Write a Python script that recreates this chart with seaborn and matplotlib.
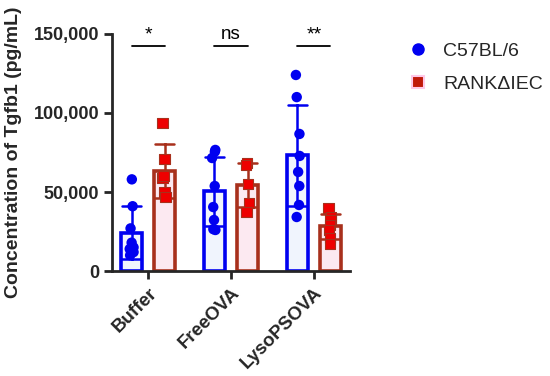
import numpy as np
import pandas as pd
import matplotlib
matplotlib.use("Agg")
import matplotlib.pyplot as plt
import matplotlib.colors as mcolors
import seaborn as sns
from matplotlib.lines import Line2D
from matplotlib.markers import MarkerStyle

# ---- data (pg/mL) ----
groups = ["Buffer", "FreeOVA", "LysoPSOVA"]
strains = ["C57BL/6", "RANKΔIEC"]

buffer_wt = [58000, 41000, 27000, 18000, 15000, 12000, 14000, 10000]
buffer_ko = [93700, 70900, 58900, 50000, 47000, 60000]
freeova_wt = [76600, 75500, 71500, 53800, 40500, 32300, 26500, 26000]
freeova_ko = [68500, 67000, 55000, 43000, 37500]
lyso_wt = [124000, 110000, 86700, 72800, 62700, 53800, 41800, 34200]
lyso_ko = [40000, 34000, 32000, 29000, 26000, 21000, 17000]

sig_labels = ["*", "ns", "**"]
yticks = [0, 50000, 100000, 150000]

# ---- long table ----
rows = []
for g, wt, ko in zip(groups, [buffer_wt, freeova_wt, lyso_wt], [buffer_ko, freeova_ko, lyso_ko]):
    rows += [(g, strains[0], v) for v in wt]
    rows += [(g, strains[1], v) for v in ko]
df = pd.DataFrame(rows, columns=["group", "strain", "conc"])

# ---- styles ----
edge = {strains[0]: "#0000f0", strains[1]: "#a8301c"}
face = {strains[0]: "#eef3ff", strains[1]: "#ffe6f0"}
dot = {strains[0]: "#0000f0", strains[1]: "#ee0000"}

sns.set_style("ticks")
plt.rcParams["font.family"] = ["Liberation Sans", "DejaVu Sans"]

fig, ax = plt.subplots(figsize=(5.5, 3.76), dpi=100)
fig.subplots_adjust(left=0.204, right=0.636, bottom=0.279, top=0.91)

sns.barplot(data=df, x="group", y="conc", hue="strain", order=groups, hue_order=strains,
            palette=face, linewidth=2.6, gap=0.38, errorbar="sd", capsize=0.45,
            err_kws={"linewidth": 1.8}, legend=False, ax=ax)


def side(cx):
    # left of the category tick = C57BL/6, right = RANKΔIEC
    return strains[0] if cx < np.round(cx) else strains[1]


for p in ax.patches:
    p.set_edgecolor(edge[side(p.get_x() + p.get_width() / 2)])
for ln in ax.lines:
    xs = np.asarray(ln.get_xdata(), dtype=float)
    xs = xs[np.isfinite(xs)]
    if xs.size == 0:
        continue
    ln.set_color(edge[side(xs.mean())])

n_before = len(ax.collections)
np.random.seed(3)
sns.stripplot(data=df, x="group", y="conc", hue="strain", order=groups, hue_order=strains,
              palette=dot, dodge=True, jitter=0.06, size=7.5, linewidth=0,
              legend=False, ax=ax, zorder=4)
square = MarkerStyle("s")
square_path = square.get_path().transformed(square.get_transform())
red_rgba = mcolors.to_rgba(dot[strains[1]])
for coll in ax.collections[n_before:]:
    fc = coll.get_facecolor()
    if len(fc) and np.allclose(fc[0][:3], red_rgba[:3], atol=0.02):
        coll.set_paths([square_path])
        coll.set_edgecolor(edge[strains[1]])
        coll.set_linewidth(0.8)

# significance lines
for i, lab in enumerate(sig_labels):
    ax.plot([i - 0.2, i + 0.2], [142000, 142000], color="black", lw=1.3, clip_on=False)
    ax.text(i, 144000, lab, ha="center", va="bottom", fontsize=14 if lab != "ns" else 13.5,
            color="black")

ax.set_ylim(0, 150000)
ax.set_xlim(-0.434, 2.434)
ax.set_yticks(yticks)
ax.set_yticklabels([f"{t:,}" for t in yticks], fontsize=13, fontweight="bold")
ax.set_xticks(range(len(groups)))
ax.set_xticklabels(groups, rotation=45, ha="right", rotation_mode="anchor",
                   fontsize=13.5, fontweight="bold")
ax.set_xlabel("")
ax.set_ylabel("Concentration of Tgfb1 (pg/mL)", fontsize=14, fontweight="bold", labelpad=8)
sns.despine(ax=ax)
for sp in ["left", "bottom"]:
    ax.spines[sp].set_linewidth(2)
ax.tick_params(width=2, length=6)

handles = [
    Line2D([], [], marker="o", ls="", color=dot[strains[0]], markersize=8),
    Line2D([], [], marker="s", ls="", markerfacecolor="#c01808", markeredgecolor="#ffc8e8",
           markeredgewidth=1.5, markersize=8),
]
fig.legend(handles, strains, loc="upper left", bbox_to_anchor=(0.71, 0.935), frameon=False,
           fontsize=14, labelspacing=0.8, handletextpad=0.8, handlelength=1.0)

fig.savefig("out.png", dpi=100)
